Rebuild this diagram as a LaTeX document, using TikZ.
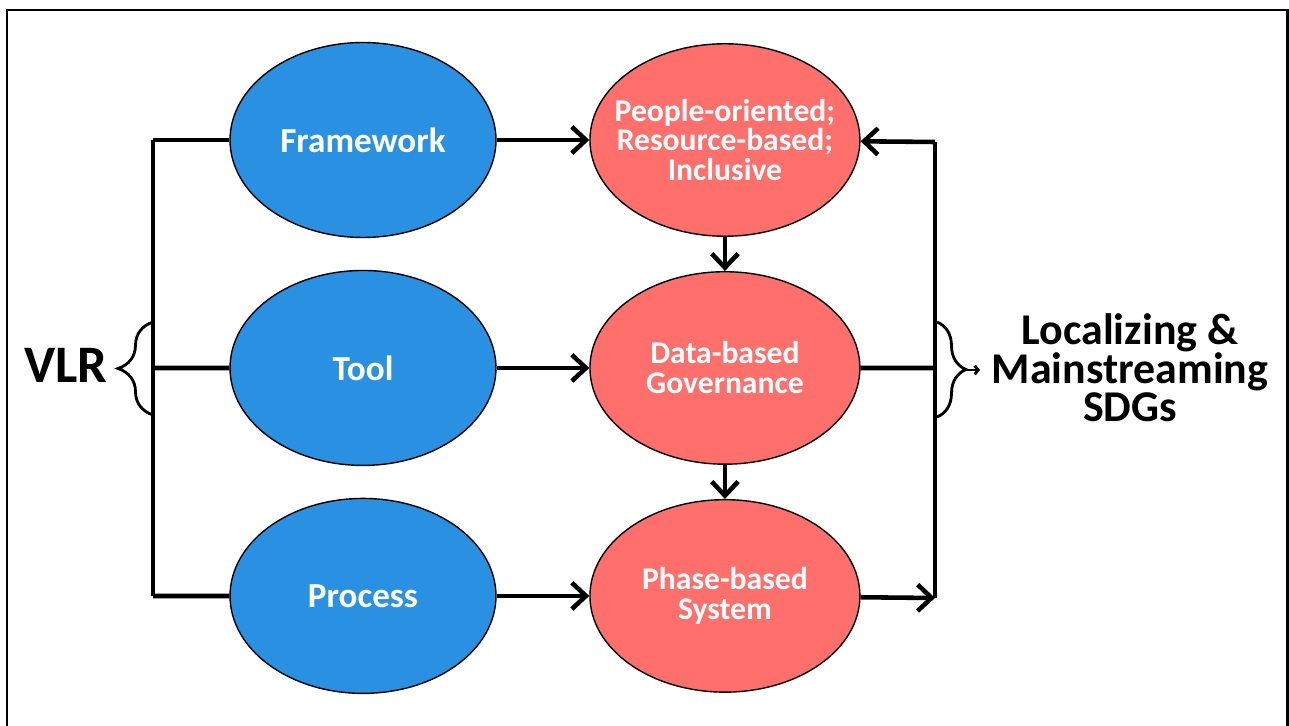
\documentclass[tikz,border=0pt]{standalone}
\usepackage{fontspec}
\setmainfont{Carlito}
\usepackage{tikz}
\usetikzlibrary{shapes,arrows.meta,positioning,decorations.pathreplacing}
\definecolor{vlrblue}{RGB}{42,144,226}
\definecolor{sdgred}{RGB}{255,111,107}
\tikzstyle{approach} = [ellipse, draw, line width=0.8pt, fill=vlrblue, text=white, minimum width=5.32cm, minimum height=3.9cm, font=\fontsize{20}{21}\selectfont\bfseries, align=center]
\tikzstyle{principle} = [ellipse, draw, line width=0.8pt, fill=sdgred, text=white, inner xsep=-1.2cm, minimum width=5.4cm, minimum height=3.85cm, font=\fontsize{18}{17}\selectfont\bfseries, align=center]
\tikzstyle{line} = [draw, line width=2.6pt, -{Straight Barb[length=8pt,width=15pt]}]
\tikzstyle{bus} = [draw, line width=2.6pt]
\tikzstyle{curly} = [draw, line width=1.6pt, decorate]
\tikzstyle{goal} = [align=center, font={\fontsize{25}{22}\selectfont\bfseries}]

\begin{document}
\begin{tikzpicture}[x=0.02cm, y=-0.02cm, node distance=4.56cm, auto]
        \useasboundingbox (0,0) rectangle (1289,726);
        \draw [line width=1.7pt] (7,730) -- (7,10) -- (1287,10) -- (1287,730);

        \node [approach] at (363,140) (fw) {Framework};
        \node [approach, below of=fw] (tool) {Tool};
        \node [approach, below of=tool] (proc) {Process};
        \node [principle, right of=fw, node distance=7.24cm] (pr) {People-oriented;\\Resource-based;\\Inclusive};
        \node [principle, right of=tool, node distance=7.24cm] (dg) {Data-based\\Governance};
        \node [principle, right of=proc, node distance=7.24cm] (ps) {Phase-based\\System};

        \node at (66,365) (vlr) {\fontsize{30}{30}\selectfont\bfseries VLR};
        \node [goal] at (1130,368) (sdg) {Localizing \&\\Mainstreaming\\SDGs};

        % left bus
        \coordinate (lt) at (153,140);
        \coordinate (lm) at (153,368);
        \coordinate (lb) at (153,596);
        \path [bus] (lt) -- (lb);
        \path [bus] (lt) -- (fw);
        \path [bus] (lm) -- (tool);
        \path [bus] (lb) -- (proc);

        % right bus
        \coordinate (rt) at (935,142);
        \coordinate (rm) at (935,368);
        \coordinate (rb) at (935,598);
        \path [bus] (rt) -- (rb);
        \path [line] (rt) -- (pr);
        \path [bus] (dg) -- (rm);
        \path [line] (ps) -- (rb);

        \path [line] (fw) -- (pr);
        \path [line] (tool) -- (dg);
        \path [line] (proc) -- (ps);
        \path [line] (pr) -- (dg);
        \path [line] (dg) -- (ps);

        % braces
        \coordinate (lbr1) at (153,415);
        \coordinate (lbr2) at (153,322);
        \path [curly, decoration={brace, amplitude=0.7cm}] (lbr1) -- (lbr2);
        \coordinate (rbr1) at (937,322);
        \coordinate (rbr2) at (937,417);
        \coordinate (rtip) at (966,370);
        \coordinate (rend) at (980,370);
        \path [curly, decoration={brace, amplitude=0.58cm}] (rbr1) -- (rbr2);
        \draw [line width=1.6pt, -{Straight Barb[length=2pt,width=5pt]}] (rtip) -- (rend);
      \end{tikzpicture}
\end{document}
